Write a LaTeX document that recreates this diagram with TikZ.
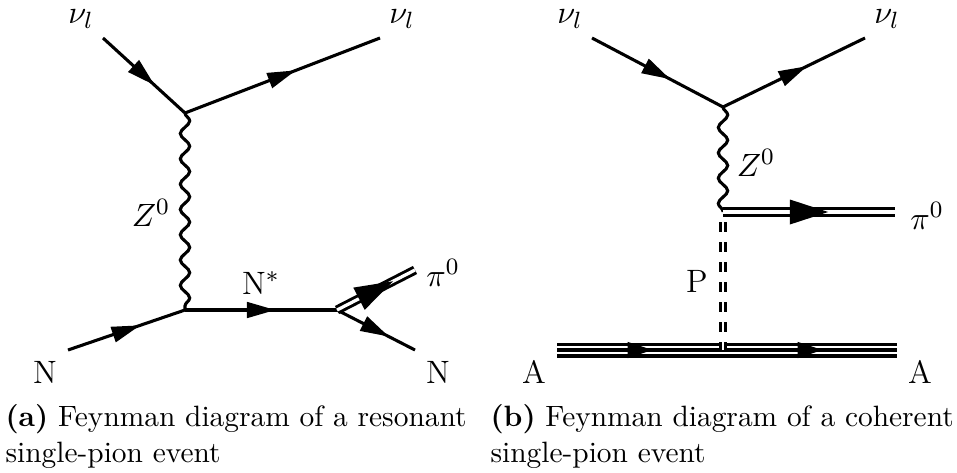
\documentclass[tikz,border=0pt]{standalone}
\usetikzlibrary{decorations.pathmorphing,decorations.markings}
\begin{document}
\begin{tikzpicture}[x=0.34pt,y=-0.34pt,
  plain/.style={line width=1.05pt},
  tip/.style n args={2}{postaction={decorate},decoration={markings,mark=at position 0.5 with {\fill (-#1/2,-#2/2) -- (#1/2,0pt) -- (-#1/2,#2/2) -- cycle;}}},
  fermion/.style={plain,tip={9.6pt}{5.6pt}},
  wave/.style={line width=1.05pt,decorate,decoration={snake,segment length=8.6pt,amplitude=1.6pt}},
  dbl/.style={line width=1pt,double,double distance=1.1pt},
  trpl/.style={line width=1.05pt,double,double distance=3pt},
  pomeron/.style={line width=1pt,double,double distance=0.8pt,dash pattern=on 3.4pt off 3.4pt},
  lbl/.style={inner sep=0pt,font=\fontsize{11}{13}\selectfont}
]
\useasboundingbox (0,0) rectangle (957,472);
% ---------- (a) ----------
\coordinate (a1) at (103,38);
\coordinate (av1) at (185,113);
\coordinate (a2) at (380,38);
\coordinate (av2) at (185,310);
\coordinate (a3) at (68,350);
\coordinate (av3) at (337,310);
\coordinate (a4) at (415,270);
\coordinate (a5) at (415,350);
\draw[fermion] (a1) -- (av1);
\draw[fermion] (av1) -- (a2);
\draw[wave] (av1) -- (av2);
\draw[fermion] (a3) -- (av2);
\draw[fermion] (av2) -- (av3);
\draw[fermion] (av3) -- (a5);
\draw[dbl] (av3) -- (a4);
\path[tip={13pt}{8.5pt}] (av3) -- (a4);
\node[lbl] (la1) at (81,19) {$\nu_l$};
\node[lbl] (la2) at (402,19) {$\nu_l$};
\node[lbl] (laz) at (151,213) {$Z^0$};
\node[lbl] (lan) at (45,372) {N};
\node[lbl] (lans) at (261,283) {N$^*$};
\node[lbl] (lapi) at (443,273) {$\pi^0$};
\node[lbl] (lan2) at (438,372) {N};
% ---------- (b) ----------
\coordinate (b1) at (592,38);
\coordinate (bv1) at (723,107);
\coordinate (b2) at (865,38);
\coordinate (bv2) at (723,212);
\coordinate (b3) at (895,212);
\coordinate (bp) at (723,222);
\coordinate (bv3) at (723,350);
\coordinate (bA1) at (557,350);
\coordinate (bA2) at (897,350);
\draw[fermion] (b1) -- (bv1);
\draw[fermion] (bv1) -- (b2);
\draw[wave] (bv1) -- (bv2);
\draw[dbl] (bv2) -- (b3);
\path[tip={13pt}{8.5pt}] (bv2) -- (b3);
\draw[trpl] (bA1) -- (bA2);
\draw[line width=1.05pt] (bA1) -- (bA2);
\path[tip={8.5pt}{5.6pt}] (bA1) -- (bv3);
\path[tip={8.5pt}{5.6pt}] (bv3) -- (bA2);
\draw[pomeron] (bp) -- (bv3);
\node[lbl] (lb1) at (570,19) {$\nu_l$};
\node[lbl] (lb2) at (887,19) {$\nu_l$};
\node[lbl] (lbz) at (756,163) {$Z^0$};
\node[lbl] (lbpi) at (927,216) {$\pi^0$};
\node[lbl] (lbp) at (697,281) {P};
\node[lbl] (lbA1) at (534,372) {A};
\node[lbl] (lbA2) at (920,372) {A};
% ---------- captions ----------
\node[anchor=base west,align=left,inner sep=0pt] (capa) at (5,462) {\textbf{(a)} Feynman diagram of a resonant\\single-pion event};
\node[anchor=base west,align=left,inner sep=0pt] (capb) at (490,462) {\textbf{(b)} Feynman diagram of a coherent\\single-pion event};
\end{tikzpicture}
\end{document}
